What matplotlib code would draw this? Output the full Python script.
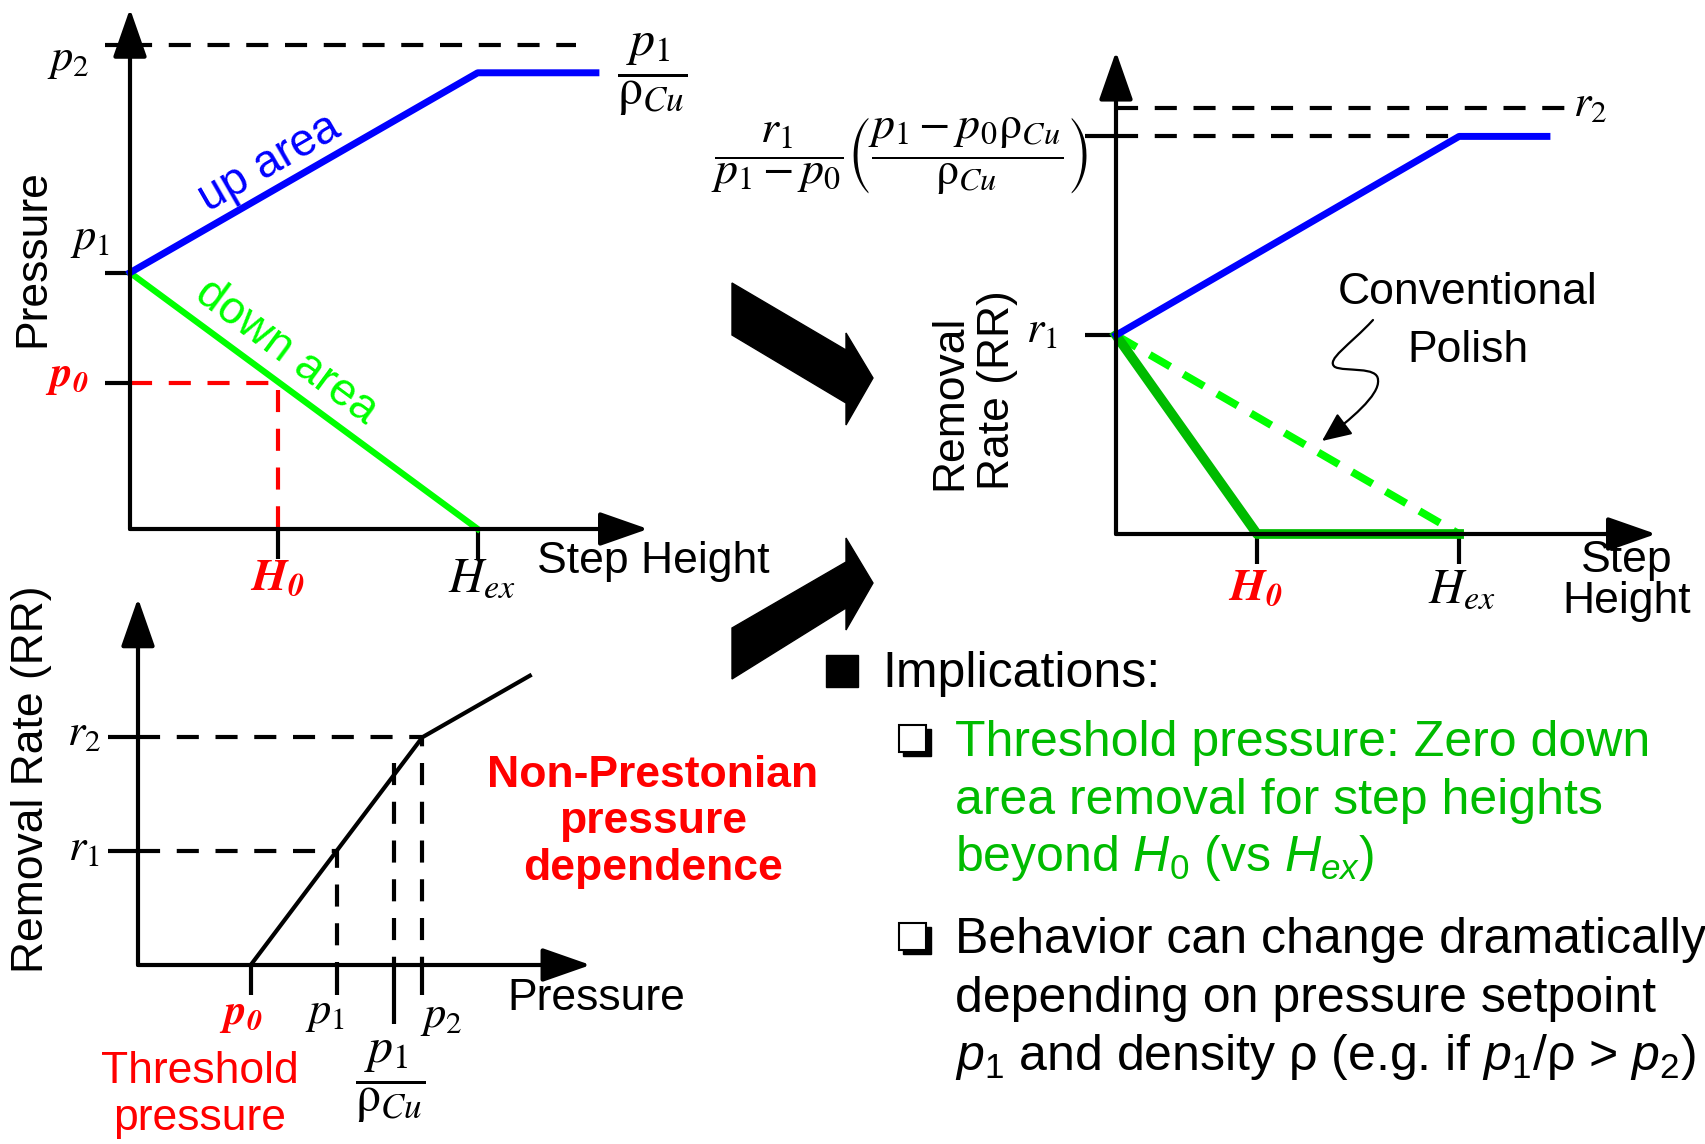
import numpy as np
import matplotlib
matplotlib.use('Agg')
import matplotlib.pyplot as plt
from matplotlib.patches import Polygon, Rectangle, FancyArrowPatch
from matplotlib.path import Path

plt.rcParams['font.family'] = ['Liberation Sans', 'DejaVu Sans']
plt.rcParams['mathtext.fontset'] = 'stix'
# 'custom' math font is used for the sans bullet text
plt.rcParams['mathtext.rm'] = 'Liberation Sans'
plt.rcParams['mathtext.it'] = 'Liberation Sans:italic'
plt.rcParams['mathtext.bf'] = 'Liberation Sans:bold'

# ==========================================
# DATA (schematic units)
# ==========================================
# top-left: pressure vs step height  (Hex = 1, p1 = 1)
a_h0, a_hex = 0.425, 1.0
a_p0, a_p1, a_p1rho, a_p2 = 0.57, 1.0, 1.78, 1.89
a_up_h = [0.0, 1.0, 1.34]
a_up_p = [1.0, 1.78, 1.78]
a_down_h = [0.0, 1.0]
a_down_p = [1.0, 0.0]
a_p2_dash_end = 1.283

# bottom-left: removal rate vs pressure  (p1 = 1, r1 = 1)
b_press = [0.568, 1.0, 1.433, 1.974]
b_rr = [0.0, 1.0, 2.0, 2.54]
b_p0, b_p1, b_p1rho, b_p2 = 0.568, 1.0, 1.29, 1.433
b_r1, b_r2 = 1.0, 2.0
b_rr_at_p1rho = 1.77

# right: removal rate vs step height  (Hex = 1, r1 = 1)
c_h0, c_hex = 0.411, 1.0
c_up_h = [0.0, 1.0, 1.256]
c_up_rr = [1.0, 2.0, 2.0]
c_down_h = [0.0, 0.411, 1.0]
c_down_rr = [1.0, 0.0, 0.0]
c_conv_h = [0.0, 1.0]
c_conv_rr = [1.0, 0.0]
c_r1, c_rhi, c_r2 = 1.0, 2.0, 2.145
c_r2_dash_end = 1.33

# ==========================================
# LAYOUT
# ==========================================
W, H = 1706, 1144
fig = plt.figure(figsize=(W / 100, H / 100), dpi=100)

BLUE = '#0000FF'
LIME = '#00FF00'
GREEN = '#00BB00'
RED = '#FF0000'
DASH = (5.3, 4)
SYM = 32      # p / r symbol labels
HSZ = 35      # H_ex labels


def panel(ox, oy, sx, sy, xmax, ymax):
    ax = fig.add_axes([ox / W, 1 - oy / H, xmax * sx / W, ymax * sy / H])
    ax.set_xlim(0, xmax)
    ax.set_ylim(0, ymax)
    ax.axis('off')
    ax.sx, ax.sy = sx, sy
    # axis arrows
    for tip in [(xmax, 0), (0, ymax)]:
        ax.annotate('', xy=tip, xytext=(0, 0), annotation_clip=False,
                    arrowprops=dict(arrowstyle='-|>,head_length=0.4,head_width=0.14',
                                    mutation_scale=75, lw=3, color='k',
                                    shrinkA=0, shrinkB=0))
    return ax


def ytick(ax, y, px=25):
    ax.plot([-px / ax.sx, 0], [y, y], color='k', lw=3, clip_on=False, solid_capstyle='butt')


def xtick(ax, x, px=30):
    ax.plot([x, x], [-px / ax.sy, 0], color='k', lw=3, clip_on=False, solid_capstyle='butt')


def lab(ax, s, xy, off, size=SYM, color='k', **kw):
    ax.annotate(s, xy=xy, xytext=off, textcoords='offset pixels', ha='center', va='center',
                fontsize=size, color=color, math_fontfamily='stix', annotation_clip=False, **kw)


def ftext(x, y, s, **kw):
    return fig.text(x / W, 1 - y / H, s, **kw)


def seg_angle(ax, xs, ys):
    p = ax.transData.transform(np.column_stack([xs[:2], ys[:2]]))
    d = p[1] - p[0]
    return np.degrees(np.arctan2(d[1], d[0]))


FRAC = r'$\dfrac{p_1}{\mathrm{\rho}_{Cu}}$'

# ---------- top-left panel ----------
axA = panel(130, 529, 347.7, 256.3, 1.49, 2.03)
for p in [a_p0, a_p1, a_p2]:
    ytick(axA, p)
for h in [a_h0, a_hex]:
    xtick(axA, h)
axA.plot([0, a_p2_dash_end], [a_p2, a_p2], color='k', lw=3, dashes=DASH, clip_on=False)
axA.plot([0, a_h0, a_h0], [a_p0, a_p0, 0], color=RED, lw=3, dashes=DASH, clip_on=False)
axA.plot(a_down_h, a_down_p, color=LIME, lw=4.5, clip_on=False)
axA.plot(a_up_h, a_up_p, color=BLUE, lw=5, clip_on=False)

lab(axA, r'$p_2$', (0, a_p2), (-62, -16))
lab(axA, r'$p_1$', (0, a_p1), (-40, 33))
lab(axA, r'$\mathbfit{p_0}$', (0, a_p0), (-63, 6), size=31, color=RED)
lab(axA, r'$\mathbfit{H_0}$', (a_h0, 0), (0, -49), size=33, color=RED)
lab(axA, r'$H_{ex}$', (a_hex, 0), (4, -50), size=HSZ)
lab(axA, FRAC, (a_up_h[-1], a_p1rho), (56, -2), size=36)

h_lab = 0.46
lab(axA, 'up area', (h_lab, np.interp(h_lab, a_up_h, a_up_p)), (-20, 18), size=33,
    color=BLUE, rotation=seg_angle(axA, a_up_h, a_up_p), rotation_mode='anchor')
h_lab = 0.5
lab(axA, 'down area', (h_lab, np.interp(h_lab, a_down_h, a_down_p)), (-18, 49), size=33,
    color=LIME, rotation=seg_angle(axA, a_down_h, a_down_p), rotation_mode='anchor')

ftext(537, 573, 'Step Height', fontsize=32, ha='left', va='baseline')
ftext(33, 258, 'Pressure', fontsize=32, rotation=90, ha='center', va='center')

# ---------- bottom-left panel ----------
axB = panel(138, 965, 198.5, 113.9, 2.28, 3.22)
for r in [b_r1, b_r2]:
    ytick(axB, r, 30)
for p in [b_p0, b_p1, b_p2]:
    xtick(axB, p)
xtick(axB, b_p1rho, 59)
axB.plot([0, b_p1, b_p1], [b_r1, b_r1, 0], color='k', lw=3, dashes=DASH, clip_on=False)
axB.plot([0, b_p2, b_p2], [b_r2, b_r2, 0], color='k', lw=3, dashes=DASH, clip_on=False)
axB.plot([b_p1rho, b_p1rho], [b_rr_at_p1rho, 0], color='k', lw=3, dashes=DASH, clip_on=False)
axB.plot(b_press, b_rr, color='k', lw=3, clip_on=False)

lab(axB, r'$r_2$', (0, b_r2), (-54, 4))
lab(axB, r'$r_1$', (0, b_r1), (-54, 3))
lab(axB, r'$\mathbfit{p_0}$', (b_p0, 0), (-10, -50), size=31, color=RED)
lab(axB, r'$p_1$', (b_p1, 0), (-12, -49))
lab(axB, r'$p_2$', (b_p2, 0), (19, -52))
lab(axB, FRAC, (b_p1rho, 0), (-4, -117), size=36)

ftext(200, 1095, 'Threshold\npressure', fontsize=32, color=RED, ha='center', va='center',
      linespacing=1.16)
ftext(507, 998, 'Pressure', fontsize=32, ha='left', va='center')
ftext(653, 822, 'Non-Prestonian\npressure\ndependence', fontsize=32, color=RED,
      fontweight='bold', ha='center', va='center', linespacing=1.17)
ftext(32, 779, 'Removal Rate (RR)', fontsize=32, rotation=90, ha='center', va='center')

# ---------- right panel ----------
axC = panel(1116, 534, 343.1, 198.8, 1.574, 2.427)
for r in [c_r1, c_rhi]:
    ytick(axC, r, 31)
for h in [c_h0, c_hex]:
    xtick(axC, h)
axC.plot([0, c_r2_dash_end], [c_r2, c_r2], color='k', lw=3, dashes=DASH, clip_on=False)
axC.plot([0, c_up_h[1]], [c_rhi, c_rhi], color='k', lw=3, dashes=DASH, clip_on=False)
axC.plot(c_conv_h, c_conv_rr, color=LIME, lw=5.5, dashes=(3.1, 2), clip_on=False)
axC.plot(c_down_h, c_down_rr, color=GREEN, lw=7, clip_on=False)
axC.plot(c_up_h, c_up_rr, color=BLUE, lw=5, clip_on=False)

lab(axC, r'$r_1$', (0, c_r1), (-74, 5))
lab(axC, r'$r_2$', (c_r2_dash_end, c_r2), (18, 3))
lab(axC, r'$\mathbfit{H_0}$', (c_h0, 0), (-2, -54), size=33, color=RED)
lab(axC, r'$H_{ex}$', (c_hex, 0), (3, -56), size=HSZ)

ftext(900, 156, r'$\dfrac{r_1}{p_1 - p_0}\left(\dfrac{p_1 - p_0\mathrm{\rho}_{Cu}}{\mathrm{\rho}_{Cu}}\right)$',
      fontsize=33, ha='center', va='center', math_fontfamily='stix')
ftext(950, 490, 'Removal', fontsize=32, rotation=90, ha='center', va='bottom')
ftext(998, 490, 'Rate (RR)', fontsize=32, rotation=90, ha='center', va='bottom')
ftext(1627, 581, 'Step\nHeight', fontsize=32, ha='center', va='center', linespacing=1.0)
ftext(1468, 304, 'Conventional', fontsize=32, ha='center', va='baseline')
ftext(1468, 362, 'Polish', fontsize=32, ha='center', va='baseline')

# squiggly pointer to the conventional polish line
def px(x, y):
    return (x / 100, (H - y) / 100)

sq = Path([px(1373, 320), px(1350, 345), px(1325, 360), px(1335, 367),
           px(1345, 372), px(1378, 366), px(1378, 380),
           px(1380, 395), px(1350, 420), px(1322, 441)],
          [Path.MOVETO] + [Path.CURVE4] * 9)
fig.add_artist(FancyArrowPatch(path=sq, arrowstyle='-|>,head_length=0.45,head_width=0.2',
                               mutation_scale=40, lw=1.6, color='k',
                               transform=fig.dpi_scale_trans))

# ---------- big block arrows ----------
arrow_down = [(732, 283), (846, 350), (846, 333), (873, 378), (846, 425), (846, 403), (732, 335)]
arrow_up = [(732, 679), (846, 608), (846, 630), (873, 583), (846, 538), (846, 562), (732, 628)]
for shape in [arrow_down, arrow_up]:
    fig.add_artist(Polygon([px(x, y) for x, y in shape], closed=True, color='k',
                           transform=fig.dpi_scale_trans))

# ---------- bullet text ----------
fig.add_artist(Rectangle(px(826, 687), 0.32, 0.32, color='k', transform=fig.dpi_scale_trans))
ftext(882, 687, 'Implications:', fontsize=36, ha='left', va='baseline')

for top in [725, 923]:
    fig.add_artist(Rectangle(px(903, top + 31), 0.28, 0.27, color='k',
                             transform=fig.dpi_scale_trans))
    fig.add_artist(Rectangle(px(899, top + 27), 0.27, 0.27, facecolor='white', edgecolor='k',
                             lw=1.5, transform=fig.dpi_scale_trans))

green_lines = ['Threshold pressure: Zero down',
               'area removal for step heights',
               r'beyond $H_0$ (vs $H_{ex}$)']
black_lines = ['Behavior can change dramatically',
               'depending on pressure setpoint',
               r'$p_1$ and density ρ (e.g. if $p_1$/ρ > $p_2$)']
for i, s in enumerate(green_lines):
    ftext(955, 756 + 57.6 * i, s, fontsize=36, color=GREEN, ha='left', va='baseline',
          math_fontfamily='custom')
for i, s in enumerate(black_lines):
    ftext(955, 953 + 58.5 * i, s, fontsize=36, color='k', ha='left', va='baseline',
          math_fontfamily='custom')

fig.savefig('out.png', dpi=100)
